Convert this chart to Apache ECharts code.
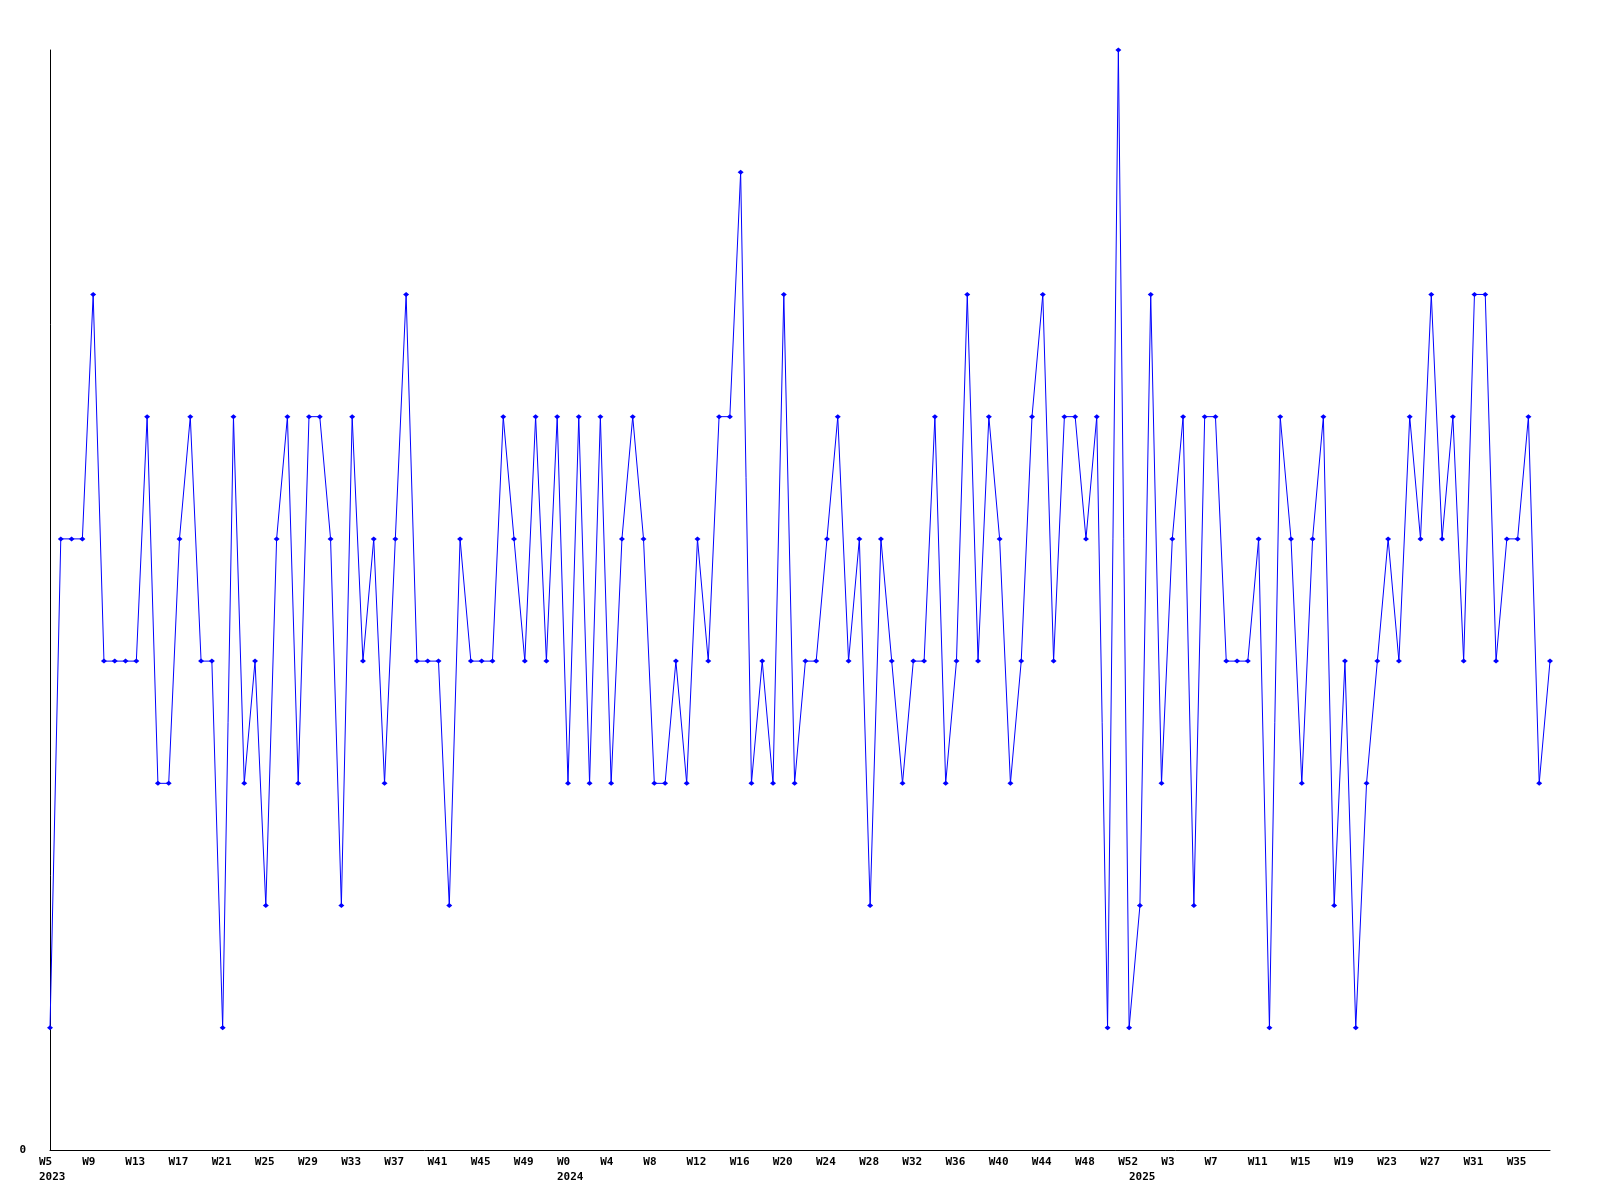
<!DOCTYPE html>
<html>
<head>
<meta charset="utf-8">
<script src="https://cdn.jsdelivr.net/npm/echarts@6/dist/echarts.min.js"></script>
<style>
  html, body { margin: 0; padding: 0; background: #fff; }
  #chart { width: 1600px; height: 1200px; }
</style>
</head>
<body>
<div id="chart"></div>
<script>
// Years covered and their first/last week numbers
var years = ['2023', '2024', '2025'];
var firstWeek = [5, 0, 0];
var lastWeek = [52, 52, 38];

// Weekly values (2023 W5 .. 2025 W38)
var values = [
  1,5,5,5,7,4,4,4,4,6,
  3,3,5,6,4,4,1,6,3,4,
  2,5,6,3,6,6,5,2,6,4,
  5,3,5,7,4,4,4,2,5,4,
  4,4,6,5,4,6,4,6,3,6,
  3,6,3,5,6,5,3,3,4,3,
  5,4,6,6,8,3,4,3,7,3,
  4,4,5,6,4,5,2,5,4,3,
  4,4,6,3,4,7,4,6,5,3,
  4,6,7,4,6,6,5,6,1,9,
  1,2,7,3,5,6,2,6,6,4,
  4,4,5,1,6,5,3,5,6,2,
  4,1,3,4,5,4,6,5,7,5,
  6,4,7,7,4,5,5,6,3,4
];

// Build week categories and year-start markers
var weekLabels = [];
var yearLabels = [];
for (var y = 0; y < years.length; y++) {
  for (var w = firstWeek[y]; w <= lastWeek[y]; w++) {
    weekLabels.push('W' + w);
    yearLabels.push(w === firstWeek[y] ? years[y] : '');
  }
}

var font = '"DejaVu Sans Mono", monospace';
var chart = echarts.init(document.getElementById('chart'));
chart.setOption({
  animation: false,
  backgroundColor: '#ffffff',
  grid: [
    { left: 50, right: 50, top: 50, bottom: 50 },
    { left: 39, right: 61, top: 50, bottom: 50 },
    { left: 39, right: 61, top: 50, bottom: 50 }
  ],
  xAxis: [
    {
      type: 'category', gridIndex: 0, position: 'bottom', data: weekLabels, boundaryGap: false,
      axisLine: { show: true, lineStyle: { color: '#000', width: 1 } },
      axisTick: { show: false }, axisLabel: { show: false }, splitLine: { show: false }
    },
    {
      type: 'category', gridIndex: 1, position: 'bottom', data: weekLabels, boundaryGap: false,
      axisLine: { show: false }, axisTick: { show: false }, splitLine: { show: false },
      axisLabel: {
        interval: 3, align: 'left', margin: 7,
        color: '#000', fontFamily: font, fontSize: 11, fontWeight: 'bold'
      }
    },
    {
      type: 'category', gridIndex: 2, position: 'bottom', data: yearLabels, boundaryGap: false,
      axisLine: { show: false }, axisTick: { show: false }, splitLine: { show: false },
      axisLabel: {
        interval: 0, align: 'left', margin: 22,
        color: '#000', fontFamily: font, fontSize: 11, fontWeight: 'bold'
      }
    }
  ],
  yAxis: [
    {
      type: 'value', gridIndex: 0, min: 0, max: 9, interval: 9,
      axisLine: { show: true, lineStyle: { color: '#000', width: 1 } },
      axisTick: { show: false }, splitLine: { show: false },
      axisLabel: {
        margin: 24, color: '#000', fontFamily: font, fontSize: 11, fontWeight: 'bold',
        formatter: function (v) { return v === 0 ? '0' : ''; }
      }
    },
    { type: 'value', gridIndex: 1, min: 0, max: 9, show: false },
    { type: 'value', gridIndex: 2, min: 0, max: 9, show: false }
  ],
  series: [
    {
      type: 'line', xAxisIndex: 0, yAxisIndex: 0, data: values,
      symbol: 'diamond', symbolSize: [6, 5], showAllSymbol: true,
      lineStyle: { color: '#0000ff', width: 1 },
      itemStyle: { color: '#0000ff' }
    }
  ]
});
</script>
</body>
</html>
